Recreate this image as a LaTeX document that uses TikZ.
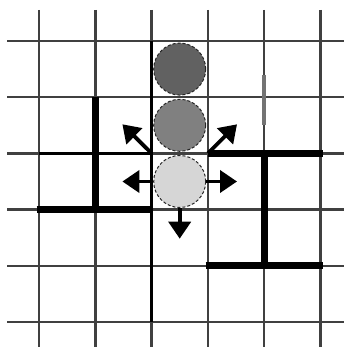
\documentclass[tikz,border=0pt]{standalone}
\usetikzlibrary{arrows.meta}
\begin{document}
\begin{tikzpicture}[x=1pt,y=-1pt,
  gridline/.style={draw=black!75,line width=2.4pt},
  medwall/.style={draw=black,line width=3.2pt},
  wall/.style={draw=black,line width=7pt,line cap=butt},
  graywall/.style={draw=black!55,line width=3.5pt},
  ball/.style={circle,minimum size=52pt,inner sep=0pt,draw=black!85,densely dashed,line width=1pt},
  arr/.style={draw=black,line width=3.8pt,-{Triangle[length=17pt,width=22pt]}}]
\useasboundingbox (0,0) rectangle (344,347);
\fill[white] (0,0) rectangle (344,347);
% grid
\foreach \i in {0,...,5}{
  \draw[gridline] ({39+56.3*\i},10) -- ({39+56.3*\i},347);
  \draw[gridline] (7,{41+56.2*\i}) -- (344,{41+56.2*\i});
}
% medium walls
\draw[medwall] (151.6,41) -- (151.6,322);
\draw[medwall] (39,153.4) -- (151.6,153.4);
% thick walls
\draw[wall] (95.3,97.2) -- (95.3,209.6);
\draw[wall] (36.5,209.6) -- (153,209.6);
\draw[wall] (207.9,153.4) -- (323,153.4);
\draw[wall] (264.2,153.4) -- (264.2,265.8);
\draw[wall] (205.5,265.8) -- (323,265.8);
\draw[graywall] (264.2,75) -- (264.2,125);
% balls
\node[ball,fill=black!62] (c1) at (179.7,69.1) {};
\node[ball,fill=black!50] (c2) at (179.7,125.3) {};
\node[ball,fill=black!16] (c3) at (179.7,181.5) {};
% arrow ends
\coordinate (ul) at (151.6,153.4);
\coordinate (ur) at (207.9,153.4);
\coordinate (tl) at (122.4,181.5);
\coordinate (tr) at (237.0,181.5);
\coordinate (td) at (179.7,238.7);
\coordinate (tul) at (122.4,124.3);
\coordinate (tur) at (237.0,124.3);
\draw[arr] (c3.west) -- (tl);
\draw[arr] (c3.east) -- (tr);
\draw[arr] (c3.south) -- (td);
\draw[arr] (ul) -- (tul);
\draw[arr] (ur) -- (tur);
\end{tikzpicture}
\end{document}
